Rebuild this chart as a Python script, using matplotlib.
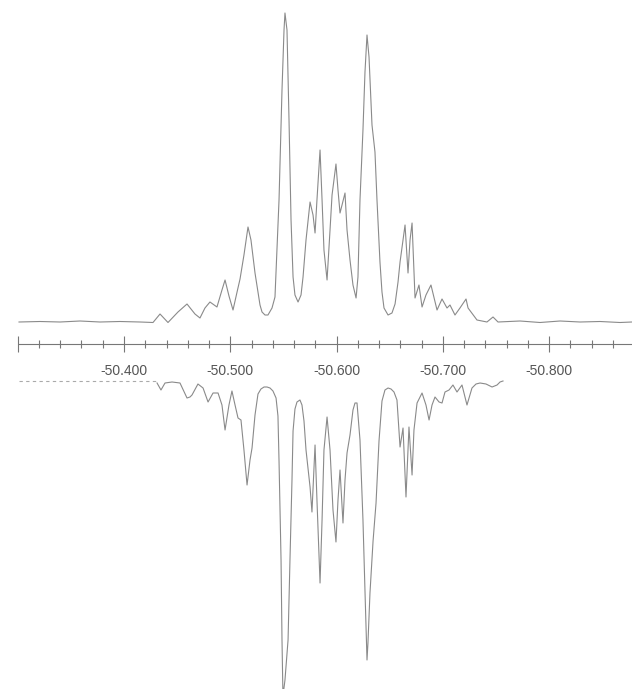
import matplotlib
matplotlib.use("Agg")
import numpy as np
import matplotlib.pyplot as plt
from matplotlib.ticker import FixedLocator, FixedFormatter, MultipleLocator

plt.rcParams['font.family'] = ['Liberation Sans', 'DejaVu Sans']
plt.rcParams['axes.unicode_minus'] = False

# experimental spectrum (upper trace), shift in ppm and intensity
exp_ppm = [-50.3012, -50.3209, -50.3398, -50.3586, -50.3774, -50.3962, -50.4151, -50.4273,
           -50.4339, -50.4414, -50.4508, -50.4593, -50.4668, -50.4715, -50.4762, -50.4809,
           -50.4875, -50.4922, -50.4951, -50.4988, -50.5026, -50.5064, -50.5092, -50.5129,
           -50.5167, -50.5195, -50.5233, -50.5280, -50.5299, -50.5327, -50.5355, -50.5393,
           -50.5421, -50.5459, -50.5487, -50.5506, -50.5515, -50.5534, -50.5553, -50.5572,
           -50.5591, -50.5609, -50.5638, -50.5666, -50.5685, -50.5713, -50.5751, -50.5779,
           -50.5798, -50.5816, -50.5845, -50.5864, -50.5882, -50.5911, -50.5939, -50.5958,
           -50.5976, -50.5995, -50.6014, -50.6033, -50.6052, -50.6080, -50.6099, -50.6127,
           -50.6155, -50.6184, -50.6202, -50.6221, -50.6249, -50.6268, -50.6287, -50.6306,
           -50.6334, -50.6362, -50.6381, -50.6409, -50.6428, -50.6447, -50.6485, -50.6522,
           -50.6551, -50.6579, -50.6598, -50.6626, -50.6645, -50.6673, -50.6692, -50.6711,
           -50.6739, -50.6776, -50.6805, -50.6842, -50.6889, -50.6946, -50.6993, -50.7040,
           -50.7068, -50.7115, -50.7162, -50.7219, -50.7238, -50.7266, -50.7322, -50.7416,
           -50.7473, -50.7520, -50.7727, -50.7915, -50.8104, -50.8292, -50.8480, -50.8668,
           -50.8781]
exp_int = [0, 0.5, 0, 1, 0, 0.5, 0, -0.5,
           8, -0.5, 10, 18, 8, 4, 14, 20,
           15, 32, 42, 26, 12, 30, 43, 67,
           95, 82, 49, 17, 10, 7, 7, 14,
           25, 122, 232, 292, 309, 292, 202, 102,
           45, 27, 20, 27, 45, 82, 120, 107,
           89, 122, 172, 122, 72, 42, 92, 127,
           142, 158, 132, 109, 117, 129, 92, 62,
           37, 24, 45, 122, 192, 250, 287, 265,
           197, 170, 122, 60, 30, 14, 7, 9,
           18, 40, 60, 82, 97, 49, 82, 99,
           24, 37, 15, 27, 37, 12, 23, 14,
           17, 7, 14, 23, 14, 10, 2, 0,
           5, 0, 1, -0.5, 1, 0, 0.5, -0.5,
           0]

# simulated spectrum (lower, inverted trace)
sim_ppm = [-50.4311, -50.4348, -50.4386, -50.4452, -50.4527, -50.4593, -50.4621, -50.4640,
           -50.4696, -50.4744, -50.4791, -50.4838, -50.4885, -50.4922, -50.4951, -50.4988,
           -50.5016, -50.5045, -50.5073, -50.5101, -50.5129, -50.5158, -50.5186, -50.5205,
           -50.5233, -50.5261, -50.5289, -50.5318, -50.5346, -50.5374, -50.5402, -50.5431,
           -50.5449, -50.5459, -50.5478, -50.5487, -50.5496, -50.5515, -50.5544, -50.5562,
           -50.5581, -50.5591, -50.5609, -50.5628, -50.5656, -50.5675, -50.5694, -50.5713,
           -50.5751, -50.5769, -50.5798, -50.5816, -50.5845, -50.5864, -50.5882, -50.5911,
           -50.5939, -50.5967, -50.5995, -50.6014, -50.6033, -50.6061, -50.6080, -50.6099,
           -50.6127, -50.6155, -50.6174, -50.6193, -50.6221, -50.6249, -50.6268, -50.6287,
           -50.6296, -50.6315, -50.6344, -50.6372, -50.6400, -50.6428, -50.6456, -50.6485,
           -50.6513, -50.6541, -50.6569, -50.6598, -50.6626, -50.6654, -50.6682, -50.6711,
           -50.6729, -50.6758, -50.6805, -50.6842, -50.6871, -50.6899, -50.6927, -50.6965,
           -50.6993, -50.7021, -50.7059, -50.7096, -50.7134, -50.7181, -50.7228, -50.7275,
           -50.7313, -50.7351, -50.7407, -50.7464, -50.7511, -50.7539, -50.7567]
sim_int = [2, 9, 2, 1, 2, 17, 16, 14,
           3, 7, 21, 12, 12, 24, 49, 24,
           10, 24, 37, 39, 69, 104, 79, 67,
           34, 13, 8, 6, 6, 7, 10, 17,
           35, 80, 179, 259, 315, 299, 259, 179,
           99, 50, 28, 21, 19, 24, 40, 69,
           106, 131, 64, 119, 202, 139, 69, 36,
           69, 129, 161, 119, 89, 142, 99, 72,
           54, 29, 22, 22, 59, 139, 210, 279,
           262, 212, 160, 122, 60, 20, 9, 7,
           8, 11, 19, 66, 47, 116, 46, 94,
           49, 22, 12, 24, 39, 24, 16, 21,
           22, 11, 9, 4, 11, 4, 24, 7,
           3, 2, 3, 6, 4, 1, 0]

major_ticks = [-50.3, -50.4, -50.5, -50.6, -50.7, -50.8]
major_labels = ['', '-50.400', '-50.500', '-50.600', '-50.700', '-50.800']

line_col = '#8a8a8a'
sim_offset = -59
axis_pos = -22

fig = plt.figure(figsize=(6.32, 6.89), dpi=100)
ax = fig.add_axes([0, 0, 1, 1])

ax.plot(exp_ppm, exp_int, color=line_col, lw=0.8, solid_joinstyle='round')
ax.plot(sim_ppm, sim_offset - np.array(sim_int), color=line_col, lw=0.8,
        solid_joinstyle='round')
ax.plot([-50.3012, sim_ppm[0]], [sim_offset, sim_offset], color='#aaaaaa',
        lw=0.8, linestyle=(0, (3, 3)))

ax.set_xlim(-50.2833, -50.8781)
ax.set_ylim(-367, 322)

for s in ['top', 'left', 'right']:
    ax.spines[s].set_visible(False)
ax.spines['bottom'].set_position(('data', axis_pos))
ax.spines['bottom'].set_bounds(-50.3012, -50.8781)
ax.spines['bottom'].set_color('#777777')
ax.spines['bottom'].set_linewidth(0.8)

ax.xaxis.set_major_locator(FixedLocator(major_ticks))
ax.xaxis.set_major_formatter(FixedFormatter(major_labels))
ax.xaxis.set_minor_locator(MultipleLocator(0.02))
ax.tick_params(axis='x', which='major', direction='inout', length=11, width=0.8,
               color='#777777', labelsize=10, labelcolor='#555555', pad=9)
ax.tick_params(axis='x', which='minor', direction='inout', length=6, width=0.8,
               color='#777777')
ax.set_yticks([])

fig.savefig('out.png', dpi=100)
